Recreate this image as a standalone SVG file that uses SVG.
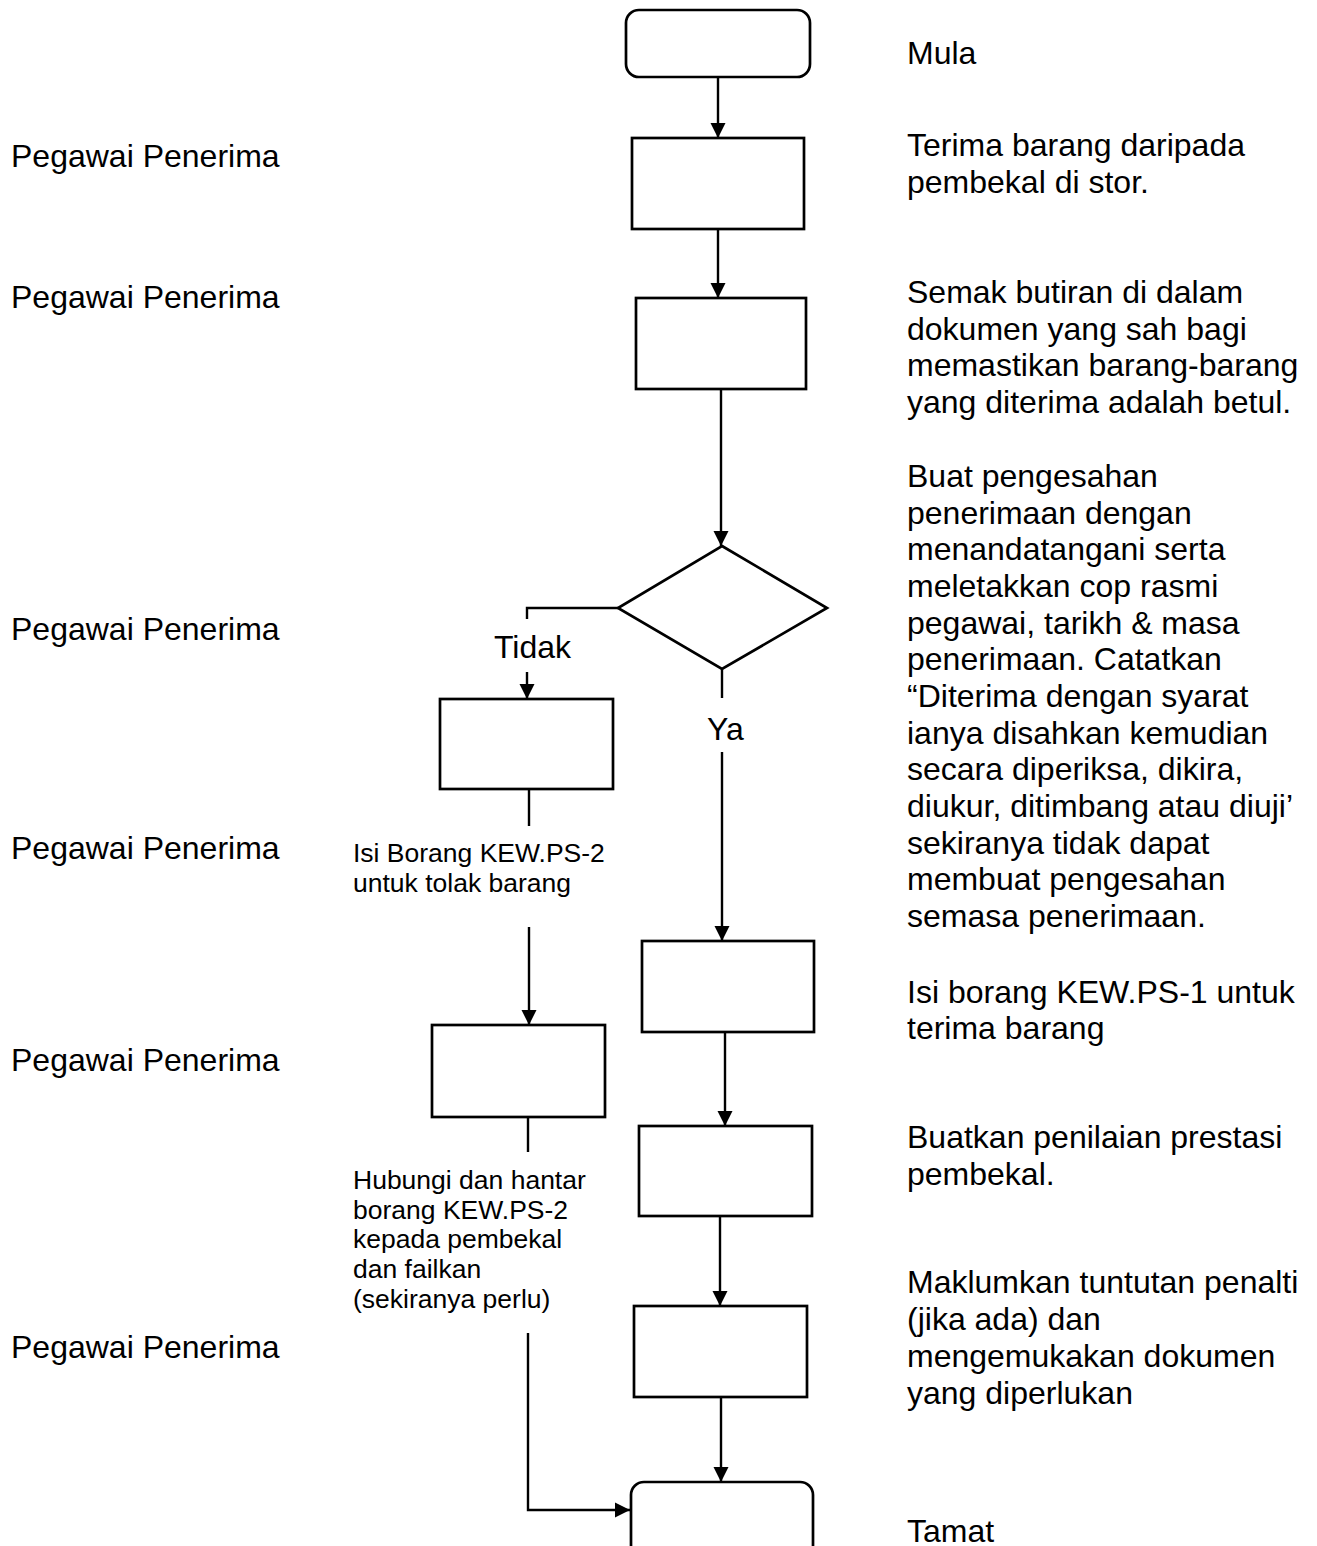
<svg xmlns="http://www.w3.org/2000/svg" width="1317" height="1546" viewBox="0 0 1317 1546">
  <defs>
    <marker id="arrow" markerUnits="userSpaceOnUse" markerWidth="16" markerHeight="16" refX="15" refY="8" orient="auto">
      <path d="M0,0.5 L15,8 L0,15.5 Z" fill="#000"/>
    </marker>
  </defs>
  <style>
    .box { fill: #fff; stroke: #000; stroke-width: 2.7; }
    .line { fill: none; stroke: #000; stroke-width: 2.4; }
    .arr { marker-end: url(#arrow); }
    text { font-family: "Liberation Sans", Arial, sans-serif; fill: #000; }
    .lg { font-size: 32px; }
    .sm { font-size: 26.5px; }
  </style>
  <rect width="1317" height="1546" fill="#fff"/>

  <!-- connectors -->
  <g id="connectors">
    <line class="line arr" x1="718" y1="77" x2="718" y2="138"/>
    <line class="line arr" x1="718" y1="230" x2="718" y2="298"/>
    <line class="line arr" x1="721" y1="390" x2="721" y2="546"/>
    <line class="line" x1="722" y1="669" x2="722" y2="698"/>
    <line class="line arr" x1="722" y1="752" x2="722" y2="941"/>
    <line class="line arr" x1="725" y1="1033" x2="725" y2="1126"/>
    <line class="line arr" x1="720" y1="1217" x2="720" y2="1306"/>
    <line class="line arr" x1="721" y1="1398" x2="721" y2="1482"/>
    <polyline class="line" points="618,608 527,608 527,619"/>
    <line class="line arr" x1="527" y1="672" x2="527" y2="699"/>
    <line class="line" x1="529" y1="790" x2="529" y2="826"/>
    <line class="line arr" x1="529" y1="927" x2="529" y2="1025"/>
    <line class="line" x1="528" y1="1118" x2="528" y2="1152"/>
    <polyline class="line arr" points="528,1333 528,1510 630,1510"/>
  </g>

  <!-- nodes -->
  <g id="start"><rect class="box" x="626" y="10" width="184" height="67" rx="13"/></g>
  <g id="receive"><rect class="box" x="632" y="138" width="172" height="91"/></g>
  <g id="check"><rect class="box" x="636" y="298" width="170" height="91"/></g>
  <g id="decision"><polygon class="box" points="722,546 827,608 722,669 618,608"/></g>
  <g id="reject-form"><rect class="box" x="440" y="699" width="173" height="90"/></g>
  <g id="notify-supplier"><rect class="box" x="432" y="1025" width="173" height="92"/></g>
  <g id="accept-form"><rect class="box" x="642" y="941" width="172" height="91"/></g>
  <g id="evaluate"><rect class="box" x="639" y="1126" width="173" height="90"/></g>
  <g id="penalty"><rect class="box" x="634" y="1306" width="173" height="91"/></g>
  <g id="end"><rect class="box" x="631" y="1482" width="182" height="80" rx="13"/></g>

  <!-- branch labels -->
  <text class="lg" x="494" y="658">Tidak</text>
  <text class="lg" x="707" y="740">Ya</text>

  <text class="sm" x="353" y="862">Isi Borang KEW.PS-2</text>
  <text class="sm" x="353" y="892">untuk tolak barang</text>

  <text class="sm" x="353" y="1189">Hubungi dan hantar</text>
  <text class="sm" x="353" y="1219">borang KEW.PS-2</text>
  <text class="sm" x="353" y="1248">kepada pembekal</text>
  <text class="sm" x="353" y="1278">dan failkan</text>
  <text class="sm" x="353" y="1308">(sekiranya perlu)</text>

  <!-- responsible officer column -->
  <g>
    <text class="lg" x="11" y="167">Pegawai Penerima</text>
    <text class="lg" x="11" y="308">Pegawai Penerima</text>
    <text class="lg" x="11" y="640">Pegawai Penerima</text>
    <text class="lg" x="11" y="859">Pegawai Penerima</text>
    <text class="lg" x="11" y="1071">Pegawai Penerima</text>
    <text class="lg" x="11" y="1358">Pegawai Penerima</text>
  </g>

  <!-- step description column -->
  <text class="lg" x="907" y="64">Mula</text>

  <text class="lg" x="907" y="156">Terima barang daripada</text>
  <text class="lg" x="907" y="193">pembekal di stor.</text>

  <text class="lg" x="907" y="303">Semak butiran di dalam</text>
  <text class="lg" x="907" y="340">dokumen yang sah bagi</text>
  <text class="lg" x="907" y="376">memastikan barang-barang</text>
  <text class="lg" x="907" y="413">yang diterima adalah betul.</text>

  <text class="lg" x="907" y="487">Buat pengesahan</text>
  <text class="lg" x="907" y="524">penerimaan dengan</text>
  <text class="lg" x="907" y="560">menandatangani serta</text>
  <text class="lg" x="907" y="597">meletakkan cop rasmi</text>
  <text class="lg" x="907" y="634">pegawai, tarikh &amp; masa</text>
  <text class="lg" x="907" y="670">penerimaan. Catatkan</text>
  <text class="lg" x="907" y="707">“Diterima dengan syarat</text>
  <text class="lg" x="907" y="744">ianya disahkan kemudian</text>
  <text class="lg" x="907" y="780">secara diperiksa, dikira,</text>
  <text class="lg" x="907" y="817">diukur, ditimbang atau diuji’</text>
  <text class="lg" x="907" y="854">sekiranya tidak dapat</text>
  <text class="lg" x="907" y="890">membuat pengesahan</text>
  <text class="lg" x="907" y="927">semasa penerimaan.</text>

  <text class="lg" x="907" y="1003">Isi borang KEW.PS-1 untuk</text>
  <text class="lg" x="907" y="1039">terima barang</text>

  <text class="lg" x="907" y="1148">Buatkan penilaian prestasi</text>
  <text class="lg" x="907" y="1185">pembekal.</text>

  <text class="lg" x="907" y="1293">Maklumkan tuntutan penalti</text>
  <text class="lg" x="907" y="1330">(jika ada) dan</text>
  <text class="lg" x="907" y="1367">mengemukakan dokumen</text>
  <text class="lg" x="907" y="1404">yang diperlukan</text>

  <text class="lg" x="907" y="1542">Tamat</text>
</svg>
